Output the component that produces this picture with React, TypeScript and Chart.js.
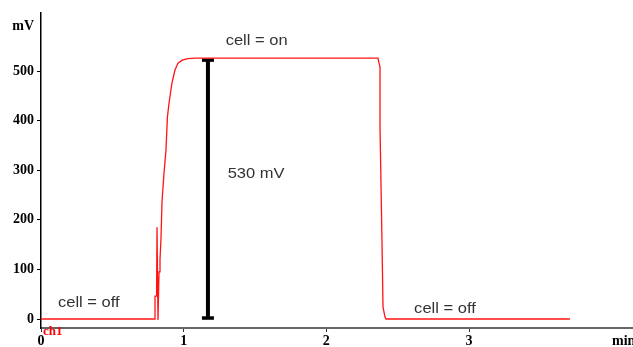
import React, { useEffect, useRef } from "react";
import { Chart, registerables } from "chart.js";

Chart.register(...registerables);

// Trace: time (min) and voltage (mV)
const timeMin = [0, 0.799, 0.799, 0.81, 0.813, 0.82, 0.827, 0.834, 0.841, 0.848, 0.862, 0.876, 0.886, 0.897, 0.918, 0.939, 0.96, 0.99, 1.03, 1.08, 2.362, 2.369, 2.376, 2.376, 2.39, 2.397, 2.411, 2.418, 3.707];
const voltageMV = [0, 0, 46, 46, 185, -2, 95, 120, 163, 236, 294, 341, 407, 435, 476, 502, 516, 522, 525, 526, 526, 516, 508, 387, 153, 24, 4, 0, 0];

// Amplitude bar
const barTime = [1.17, 1.17];
const barMV = [2, 522];

// Axes
const xTicks = [0, 1, 2, 3];
const yTicks = [0, 100, 200, 300, 400, 500];
const xRange = [0, 4.149];
const yRange = [-18.1, 617];

// Annotations (data coordinates, text left/baseline)
const noteTexts = ["cell = on", "530 mV", "cell = off", "cell = off"];
const noteX = [1.294, 1.308, 0.119, 2.615];
const noteY = [552, 284, 24, 12];

const serif = '"Liberation Serif", "Times New Roman", serif';
const sans = '"Liberation Sans", Arial, sans-serif';

export default function App() {
  const ref = useRef<HTMLCanvasElement | null>(null);
  useEffect(() => {
    document.body.style.margin = "0";
    const canvas = ref.current!;
    const notesPlugin = {
      id: "notes",
      afterDatasetsDraw(chart: any) {
        const ctx = chart.ctx;
        const xs = chart.scales.x;
        const ys = chart.scales.y;
        ctx.save();
        ctx.fillStyle = "#333";
        ctx.font = `14px ${sans}`;
        ctx.textAlign = "left";
        ctx.textBaseline = "alphabetic";
        noteTexts.forEach((t, i) => {
          ctx.save();
          ctx.translate(xs.getPixelForValue(noteX[i]), ys.getPixelForValue(noteY[i]));
          ctx.scale(1.18, 1);
          ctx.fillText(t, 0, 0);
          ctx.restore();
        });
        ctx.restore();
      },
      afterDraw(chart: any) {
        const ctx = chart.ctx;
        const a = chart.chartArea;
        ctx.save();
        ctx.font = `bold 14px ${serif}`;
        ctx.fillStyle = "#000";
        ctx.textAlign = "right";
        ctx.textBaseline = "alphabetic";
        ctx.fillText("mV", a.left - 7, a.top + 17);
        ctx.textAlign = "left";
        ctx.fillText("min", chart.width - 21, 345);
        ctx.fillStyle = "#f00";
        ctx.font = `bold 13px ${serif}`;
        ctx.fillText("ch1", a.left + 2, a.bottom + 7);
        ctx.restore();
      },
    };
    const chart = new Chart(canvas, {
      type: "scatter",
      data: {
        datasets: [
          {
            data: timeMin.map((x, i) => ({ x, y: voltageMV[i] })),
            showLine: true,
            borderColor: "rgb(255,20,20)",
            borderWidth: 1.3,
            pointRadius: 0,
            tension: 0,
          },
          {
            data: barTime.map((x, i) => ({ x, y: barMV[i] })),
            showLine: true,
            borderColor: "#000",
            borderWidth: 4,
            pointStyle: "line",
            pointRadius: 6,
            pointBorderWidth: 3.5,
            pointBorderColor: "#000",
            pointBackgroundColor: "#000",
          },
        ],
      },
      plugins: [notesPlugin],
      options: {
        responsive: false,
        animation: false,
        devicePixelRatio: 1,
        layout: { autoPadding: false, padding: { top: 13, right: 0, left: 0, bottom: 0 } },
        plugins: { legend: { display: false }, tooltip: { enabled: false } },
        scales: {
          x: {
            type: "linear",
            min: xRange[0],
            max: xRange[1],
            afterFit: (s: any) => {
              s.height = 19;
              s.paddingRight = 0;
              s.paddingLeft = 0;
            },
            afterBuildTicks: (s: any) => {
              s.ticks = xTicks.map((v) => ({ value: v }));
            },
            grid: { display: true, drawOnChartArea: false, drawTicks: true, tickLength: 4, color: "#333", lineWidth: 1 },
            border: { display: true, color: "#666", width: 2 },
            ticks: {
              padding: 1,
              color: "#000",
              font: { family: serif, size: 14, weight: "bold" },
              maxRotation: 0,
              autoSkip: false,
              callback: (v: any) => String(v),
            },
          },
          y: {
            type: "linear",
            min: yRange[0],
            max: yRange[1],
            afterFit: (s: any) => {
              s.width = 41;
            },
            afterBuildTicks: (s: any) => {
              s.ticks = yTicks.map((v) => ({ value: v }));
            },
            grid: { display: true, drawOnChartArea: false, drawTicks: true, tickLength: 4, color: "#000", lineWidth: 1 },
            border: { display: true, color: "#000", width: 1.5 },
            ticks: {
              padding: 3,
              color: "#000",
              font: { family: serif, size: 14, weight: "bold" },
              autoSkip: false,
              callback: (v: any) => String(v),
            },
          },
        },
      },
    });
    return () => chart.destroy();
  }, []);
  return <canvas ref={ref} width={633} height={347} style={{ display: "block", width: 633, height: 347 }} />;
}
